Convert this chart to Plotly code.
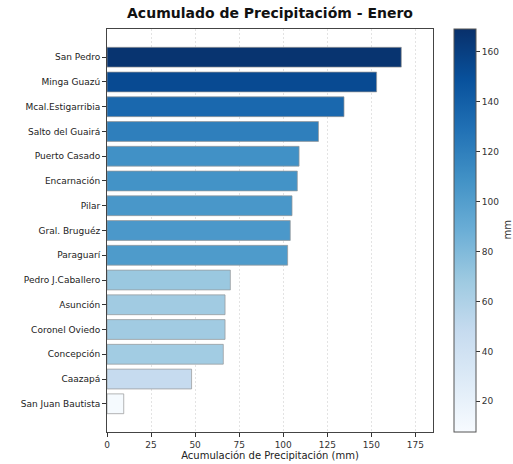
import plotly.graph_objects as go

stations = ["San Pedro", "Minga Guazú", "Mcal.Estigarribia", "Salto del Guairá",
            "Puerto Casado", "Encarnación", "Pilar", "Gral. Bruguéz", "Paraguarí",
            "Pedro J.Caballero", "Asunción", "Coronel Oviedo", "Concepción",
            "Caazapá", "San Juan Bautista"]
precip_mm = [167.0, 153.0, 134.5, 120.0, 109.0, 108.0, 105.0, 104.0, 102.5,
             70.0, 67.0, 67.0, 66.0, 48.0, 9.5]
x_ticks = [0, 25, 50, 75, 100, 125, 150, 175]
cbar_ticks = [20, 40, 60, 80, 100, 120, 140, 160]

blues = ['rgb(247,251,255)', 'rgb(222,235,247)', 'rgb(198,219,239)', 'rgb(158,202,225)',
         'rgb(107,174,214)', 'rgb(66,146,198)', 'rgb(33,113,181)', 'rgb(8,81,156)',
         'rgb(8,48,107)']
cscale = [[i / (len(blues) - 1), c] for i, c in enumerate(blues)]

font = "DejaVu Sans, Verdana, sans-serif"

fig = go.Figure(go.Bar(
    x=precip_mm, y=stations, orientation="h", width=0.8,
    marker=dict(
        color=precip_mm, colorscale=cscale,
        cmin=min(precip_mm) - 1.8, cmax=max(precip_mm) + 2.2,
        line=dict(color="rgba(150,150,150,0.7)", width=1),
        showscale=True,
        colorbar=dict(
            x=1.064, xanchor="left", xref="paper", y=0.5, yanchor="middle",
            len=1.0, lenmode="fraction", thickness=22, thicknessmode="pixels",
            xpad=0, ypad=0,
            outlinecolor="#555", outlinewidth=1,
            tickvals=cbar_ticks, ticks="outside", ticklen=4, tickcolor="#333",
            tickfont=dict(size=9, color="#333", family=font),
        ),
    ),
    hoverinfo="x+y",
))

fig.add_annotation(text="mm", xref="paper", yref="paper", x=(507 - 107) / 326, y=0.5,
                   xanchor="center", yanchor="middle", textangle=-90, showarrow=False,
                   font=dict(size=10, color="#333", family=font))

fig.update_layout(
    width=513, height=464,
    margin=dict(l=107, r=80, t=29, b=32, autoexpand=False),
    paper_bgcolor="white", plot_bgcolor="white",
    font=dict(family=font, color="#222"),
    title=dict(text="<b>Acumulado de Precipitacióm - Enero</b>", x=0.5, xanchor="center",
               y=1 - 13 / 464, yref="container", yanchor="middle", xref="paper",
               font=dict(size=14, color="#111", family=font)),
    showlegend=False,
)
fig.update_xaxes(
    range=[0, 185], tickvals=x_ticks, ticks="outside", ticklen=4, tickcolor="#333",
    tickfont=dict(size=9, color="#333"), automargin=False,
    showgrid=True, gridcolor="rgba(200,200,200,0.5)", griddash="2px,2px", gridwidth=1,
    showline=True, linecolor="#444", linewidth=1, mirror=True, zeroline=False,
    title=dict(text="Acumulación de Precipitación (mm)", font=dict(size=10, color="#222"), standoff=0),
)
fig.update_yaxes(
    categoryorder="array", categoryarray=stations, automargin=False,
    autorange=False, range=[len(stations) - 1 + 1.14, -1.14],
    ticks="outside", ticklen=4, tickcolor="#333",
    tickfont=dict(size=9, color="#222"),
    showgrid=False, showline=True, linecolor="#444", linewidth=1, mirror=True,
)

fig.write_html("out.html", config={"displayModeBar": False},
               post_script="document.body.style.margin='0';")
